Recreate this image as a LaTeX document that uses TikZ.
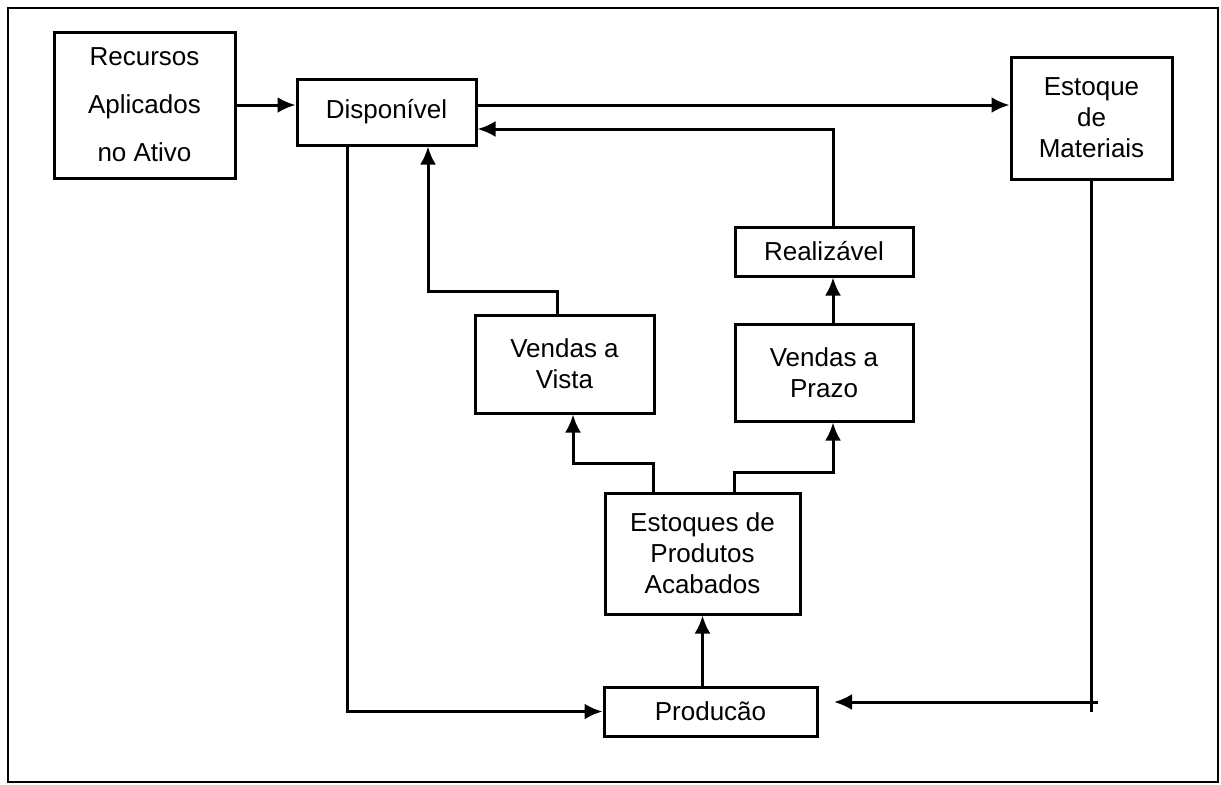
\documentclass[tikz,border=0pt]{standalone}
\usepackage{fontspec}
\setmainfont{Liberation Sans}
\usetikzlibrary{arrows.meta}
\begin{document}
\begin{tikzpicture}[x=0.5pt,y=-0.5pt]
        \useasboundingbox (0,0) rectangle (1221,784);
        \draw[line width=1pt] (8,8) rectangle (1218,782);
        \begin{scope}[every node/.style={rectangle,draw,line width=1.5pt,inner sep=0pt,align=center,
                font=\fontsize{13pt}{15.5pt}\selectfont}]
            \node[minimum width=90.5pt,minimum height=73pt,font=\fontsize{13pt}{24pt}\selectfont]
                (rec)  at (144.5,105) {Recursos\\Aplicados\\no Ativo};
            \node[minimum width=89.5pt,minimum height=33pt] (disp) at (386.5,112) {Dispon\'ivel};
            \node[minimum width=80.5pt,minimum height=61pt] (est)  at (1091.5,118) {Estoque\\de\\Materiais};

            \node[minimum width=89pt,minimum height=24.5pt] (real)  at (824,251.5) {Realiz\'avel};
            \node[minimum width=89pt,minimum height=48.5pt] (prazo) at (824,372.5) {Vendas a\\Prazo};
            \node[minimum width=89.5pt,minimum height=49pt] (vista) at (564.5,364) {Vendas a\\Vista};

            \node[minimum width=97.5pt,minimum height=60.5pt] (estq) at (702.5,553.5) {Estoques de\\Produtos\\Acabados};
            \node[minimum width=106.5pt,minimum height=24.5pt] (prod) at (710.5,711.5) {Produc\~ao};
        \end{scope}
        % bend points
        \coordinate (kp)  at (833,129);
        \coordinate (kd)  at (347,711.5);
        \coordinate (kv1) at (557,291);
        \coordinate (kv2) at (428,291);
        \coordinate (ke1) at (653,463);
        \coordinate (ke2) at (573,463);
        \coordinate (kr1) at (734,472);
        \coordinate (kr2) at (833,472);
        \coordinate (kmb) at (1091.5,712);
        \coordinate (kmr) at (1098,702);
        \coordinate (ktip) at (834,702);
        \begin{scope}[line width=1.5pt,-{Latex[length=9pt,width=8pt]}]
            \draw (rec.east) -- (rec.east -| disp.west);
            \draw (rec.east -| disp.east) -- (rec.east -| est.west);
            \draw (real.north -| kp) -- (kp) -- (kp -| disp.east);
            \draw (disp.south -| kd) -- (kd) -- (kd -| prod.west);
            \draw (vista.north -| kv1) -- (kv1) -- (kv2) -- (kv2 |- disp.south);
            \draw (estq.north -| ke1) -- (ke1) -- (ke2) -- (ke2 |- vista.south);
            \draw (estq.north -| kr1) -- (kr1) -- (kr2) -- (kr2 |- prazo.south);
            \draw (prazo.north -| kr2) -- (real.south -| kr2);
            \draw (prod.north -| estq.south) -- (estq.south);
            \draw[-] (est.south) -- (kmb);
            \draw (kmr) -- (ktip);
        \end{scope}
    \end{tikzpicture}
\end{document}
